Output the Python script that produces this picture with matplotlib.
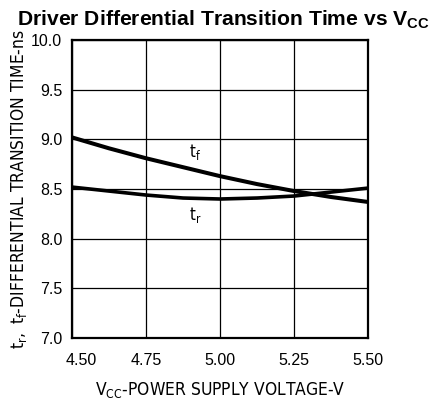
import numpy as np
import matplotlib.pyplot as plt
from matplotlib import transforms

# values
vcc = [4.50, 4.625, 4.75, 4.875, 5.00, 5.125, 5.25, 5.375, 5.50]
t_f = [9.02, 8.91, 8.81, 8.72, 8.63, 8.55, 8.48, 8.42, 8.37]
t_r = [8.52, 8.48, 8.44, 8.41, 8.40, 8.41, 8.43, 8.47, 8.51]

x_ticks = [4.50, 4.75, 5.00, 5.25, 5.50]
y_ticks = [7.0, 7.5, 8.0, 8.5, 9.0, 9.5, 10.0]

fig = plt.figure(figsize=(4.35, 4.04), dpi=100)
ax = fig.add_axes([0.1655, 0.163, 0.681, 0.738])

ax.plot(vcc, t_f, color='black', lw=2.9, solid_capstyle='butt')
ax.plot(vcc, t_r, color='black', lw=2.6, solid_capstyle='butt')

ax.text(4.915, 8.87, r'$\mathregular{t_f}$', fontsize=12, family='DejaVu Sans',
        fontstretch='condensed', ha='center', va='center')
ax.text(4.915, 8.24, r'$\mathregular{t_r}$', fontsize=12, family='DejaVu Sans',
        fontstretch='condensed', ha='center', va='center')

ax.set_xlim(4.5, 5.5)
ax.set_ylim(7.0, 10.0)
ax.set_xticks(x_ticks)
ax.set_xticklabels([f'{v:.2f}' for v in x_ticks], family='Liberation Sans', fontsize=11.5)
ax.set_yticks(y_ticks)
ax.set_yticklabels([f'{v:.1f}' for v in y_ticks], family='Liberation Sans', fontsize=11.5)
ax.tick_params(axis='x', length=0, pad=11)
ax.tick_params(axis='y', length=0, pad=7)
# first x label sits a little right of the axis edge in the reference
first = ax.get_xticklabels()[0]
first.set_transform(first.get_transform() + transforms.ScaledTranslation(9 / 100, 0, fig.dpi_scale_trans))
ax.grid(True, color='black', lw=0.9)
for s in ax.spines.values():
    s.set_linewidth(1.6)

ax.set_xlabel(r'$\mathregular{V_{CC}}$-POWER SUPPLY VOLTAGE-V', family='DejaVu Sans',
              fontstretch='condensed', fontsize=12.5, labelpad=8)
ax.set_ylabel(r'$\mathregular{t_r,\ t_f}$-DIFFERENTIAL TRANSITION TIME-ns', family='DejaVu Sans',
              fontstretch='condensed', fontsize=12.5, labelpad=1.5)

fig.text(0.514, 0.95, r'Driver Differential Transition Time vs $\mathregular{V_{CC}}$',
         family='Liberation Sans', weight='bold', fontsize=15.2, ha='center', va='center')

fig.savefig('out.png', dpi=100)
